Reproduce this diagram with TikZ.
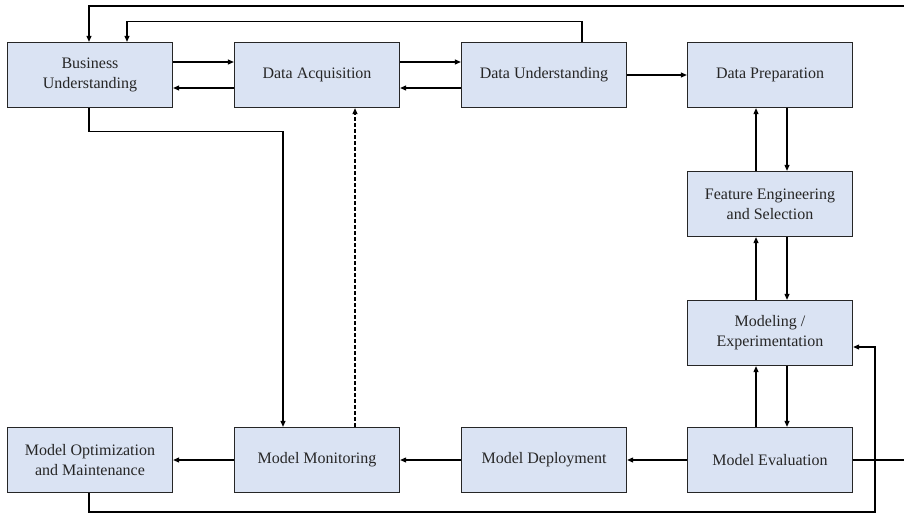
\documentclass[tikz,border=0pt]{standalone}
\usepackage{fontspec}
\setmainfont{Liberation Serif}
\usepackage{xcolor}
\usetikzlibrary{arrows.meta}
\definecolor{boxblue}{HTML}{DAE3F3}

\begin{document}
\begin{tikzpicture}[x=1pt,y=-1pt,
  stage/.style={draw=black!85,line width=1.3pt,fill=boxblue,text=black!85,
    minimum width=165pt,minimum height=65pt,inner sep=0pt,align=center,
    font=\fontsize{16}{20}\selectfont},
  flow/.style={line width=1.1pt,-{Triangle[length=6pt,width=5pt]}}]
\useasboundingbox (0,0) rectangle (904,514);
\node[stage] (bu) at (90,75) {Business\\Understanding};
\node[stage] (da) at (317,75) {Data Acquisition};
\node[stage] (du) at (544,75) {Data Understanding};
\node[stage] (dp) at (770,75) {Data Preparation};
\node[stage] (fe) at (770,204) {Feature Engineering\\and Selection};
\node[stage] (mx) at (770,333) {Modeling /\\Experimentation};
\node[stage] (me) at (770,460) {Model Evaluation};
\node[stage] (md) at (544,460) {Model Deployment};
\node[stage] (mm) at (317,460) {Model Monitoring};
\node[stage] (mo) at (90,460) {Model Optimization\\and Maintenance};
\coordinate (fb) at (875,512);
\draw[flow] ([yshift=13pt]bu.east) -- ([yshift=13pt]da.west);
\draw[flow] ([yshift=-13pt]da.west) -- ([yshift=-13pt]bu.east);
\draw[flow] ([yshift=13pt]da.east) -- ([yshift=13pt]du.west);
\draw[flow] ([yshift=-13pt]du.west) -- ([yshift=-13pt]da.east);
\draw[flow] (du) -- (dp);
\draw[flow] ([xshift=-14pt]fe.north) -- ([xshift=-14pt]dp.south);
\draw[flow] ([xshift=17pt]dp.south) -- ([xshift=17pt]fe.north);
\draw[flow] ([xshift=-14pt]mx.north) -- ([xshift=-14pt]fe.south);
\draw[flow] ([xshift=17pt]fe.south) -- ([xshift=17pt]mx.north);
\draw[flow] ([xshift=-14pt]me.north) -- ([xshift=-14pt]mx.south);
\draw[flow] ([xshift=17pt]mx.south) -- ([xshift=17pt]me.north);
\draw[flow] (me) -- (md);
\draw[flow] (md) -- (mm);
\draw[flow] (mm) -- (mo);
\draw[flow] ([xshift=-1pt]bu.south) -- ++(0,23) -| ([xshift=-34pt]mm.north);
\draw[flow,dash pattern=on 4pt off 2pt] ([xshift=38pt]mm.north) -- ([xshift=38pt]da.south);
\draw[flow] ([xshift=38pt]du.north) -- ++(0,-20.5) -| ([xshift=37pt]bu.north);
\draw[flow] (me.east) -- ++(53,0) -- ++(0,-454) -| ([xshift=-1pt]bu.north);
\draw[flow] ([xshift=-1pt]mo.south) |- (fb) |- ([yshift=-14pt]mx.east);
\end{tikzpicture}
\end{document}
